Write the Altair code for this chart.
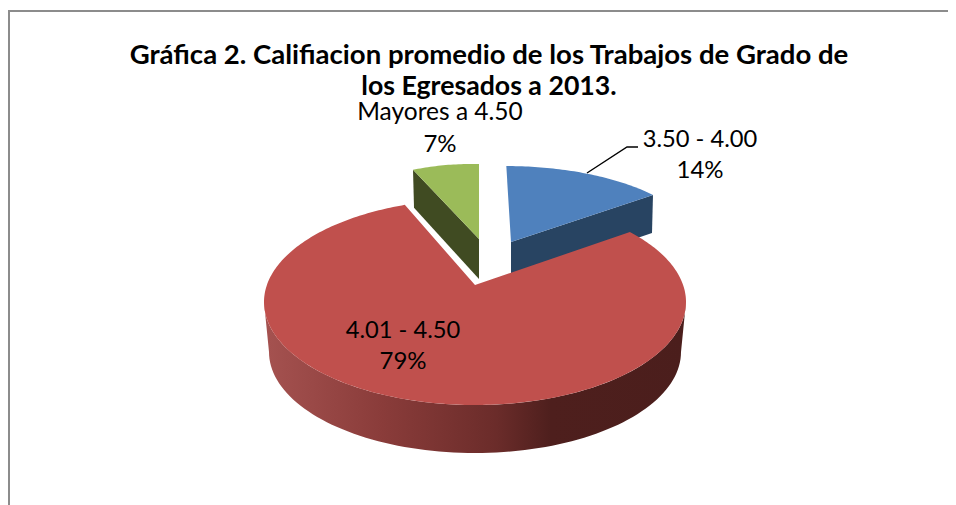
import math
import altair as alt

# ---- chart values ----
categories = ["3.50 - 4.00", "4.01 - 4.50", "Mayores a 4.50"]
shares = [14, 79, 7]
percent_labels = ["14%", "79%", "7%"]
title_lines = ["Gráfica 2. Califiacion promedio de los Trabajos de Grado de",
               "los Egresados a 2013."]

W, H = 940, 497
OX, OY = 8, 8   # page margin
FONT = "Lato"

# perspective parameters of each exploded slice (screen px)
geom = [
    dict(cx=505, cy=248, rx=194, ry=82, ax=511, ay=242, skew=-1.5, spread=1.06, wall=38),
    dict(cx=475, cy=302, rx=211, ry=103, ax=475, ay=285, skew=4.6, spread=0.991, wall=48),
    dict(cx=471, cy=244, rx=155, ry=80, ax=479, ay=239, skew=0.0, spread=1.04, wall=39),
]


def rim_point(g, theta):
    """Point where the ray from the apex at angle theta (clockwise from top) meets the rim."""
    px = (g["ax"] - g["cx"]) / g["rx"]
    py = (g["cy"] - g["ay"]) / g["ry"]
    dx, dy = math.sin(theta), math.cos(theta)
    b = px * dx + py * dy
    c = px * px + py * py - 1
    t = -b + math.sqrt(b * b - c)
    return (g["cx"] + g["rx"] * (px + t * dx), g["cy"] - g["ry"] * (py + t * dy))


def wedge(g, start_deg, end_deg):
    n = max(8, int(end_deg - start_deg))
    pts = [(g["ax"], g["ay"])]
    for i in range(n + 1):
        a = math.radians(start_deg + (end_deg - start_deg) * i / n)
        pts.append(rim_point(g, a))
    return pts


def to_px(pts):
    return [[round(x - OX, 2), round(y - OY, 2)] for x, y in pts]


def feature(pts, closed=True):
    p = to_px(pts)
    if closed:
        p = p + [p[0]]
        geo = {"type": "Polygon", "coordinates": [p]}
    else:
        geo = {"type": "LineString", "coordinates": p}
    return {"type": "Feature", "geometry": geo, "properties": {}}


def shape(pts, fill=None, stroke=None, sw=1.0):
    kw = {}
    if fill is not None:
        kw["fill"] = fill
        kw["stroke"] = None
        closed = True
    else:
        kw["filled"] = False
        kw["stroke"] = stroke
        kw["strokeWidth"] = sw
        closed = False
    return (alt.Chart(alt.Data(values=[feature(pts, closed)]))
            .mark_geoshape(clip=False, **kw)
            .project(type="identity", scale=1, translate=[0, 0]))


# cumulative angles from the values
angles = []
acc = 0.0
for s in shares:
    angles.append((acc, acc + s * 3.6))
    acc += s * 3.6

layers = []

# frame
layers.append(shape([(9, 505), (9, 11), (956, 11)], stroke="#8c8c8c", sw=2))

# green
g = geom[2]
sweep = (angles[2][1] - angles[2][0]) * g["spread"]
top = wedge(g, g["skew"] - sweep, g["skew"])
corner = top[1]
layers.append(shape([corner, (g["ax"], g["ay"]), (g["ax"], g["ay"] + 40), (corner[0] + 1, corner[1] + 38)],
                    fill="#404b22"))
layers.append(shape(top, fill="#9bbb59"))

# blue
g = geom[0]
sweep = (angles[0][1] - angles[0][0]) * g["spread"]
top = wedge(g, angles[0][0] + g["skew"], angles[0][0] + g["skew"] + sweep)
corner = top[-1]
layers.append(shape([(g["ax"], g["ay"]), corner, (corner[0] - 1, corner[1] + g["wall"]),
                     (g["ax"], g["ay"] + g["wall"] + 1)], fill="#284462"))
layers.append(shape(top, fill="#4f81bd"))

# red
g = geom[1]
sweep = (angles[1][1] - angles[1][0]) * g["spread"]
a0 = angles[1][0] + g["skew"]
low = dict(cx=475, cy=352, rx=206, ry=101)
upper_arc = [(g["cx"] + g["rx"] * math.cos(math.radians(t)),
              g["cy"] + g["ry"] * math.sin(math.radians(t))) for t in range(0, 181, 2)]
lower_arc = [(low["cx"] + low["rx"] * math.cos(math.radians(t)),
              low["cy"] + low["ry"] * math.sin(math.radians(t))) for t in range(180, -1, -2)]
red_grad = alt.Gradient(
    gradient="linear", x1=0, x2=1, y1=0, y2=0,
    stops=[alt.GradientStop(color="#a55250", offset=0),
           alt.GradientStop(color="#8a3c3a", offset=0.28),
           alt.GradientStop(color="#6b2c2a", offset=0.55),
           alt.GradientStop(color="#4e1f1d", offset=0.68),
           alt.GradientStop(color="#4b1e1c", offset=1)])
layers.append(shape(upper_arc + lower_arc, fill=red_grad))
layers.append(shape(wedge(g, a0, a0 + sweep), fill="#c0504d"))

# leader line
layers.append(shape([(587, 173), (627, 147), (638, 147)], stroke="#000000", sw=1.4))


def label(text, x, y, size=24, bold=False):
    return (alt.Chart(alt.Data(values=[{"t": text}]))
            .mark_text(font=FONT, fontSize=size, fontWeight="bold" if bold else "normal",
                       color="#000000", align="center", baseline="middle")
            .encode(x=alt.value(x - OX), y=alt.value(y - OY), text="t:N"))


layers.append(label(title_lines[0], 489, 56, 27.55, True))
layers.append(label(title_lines[1], 489, 87, 26.7, True))
layers.append(label(categories[2], 440, 113, 24.5))
layers.append(label(percent_labels[2], 440, 145))
layers.append(label(categories[0], 700, 140, 23.7))
layers.append(label(percent_labels[0], 700, 171))
layers.append(label(categories[1], 403, 331, 23.7))
layers.append(label(percent_labels[1], 403, 362))

chart = (alt.layer(*layers)
         .properties(width=W, height=H, padding=0, background="#ffffff",
                     autosize=alt.AutoSizeParams(type="none"))
         .configure_view(stroke=None))

chart.save("out.html", embed_options={"renderer": "svg", "actions": False})
